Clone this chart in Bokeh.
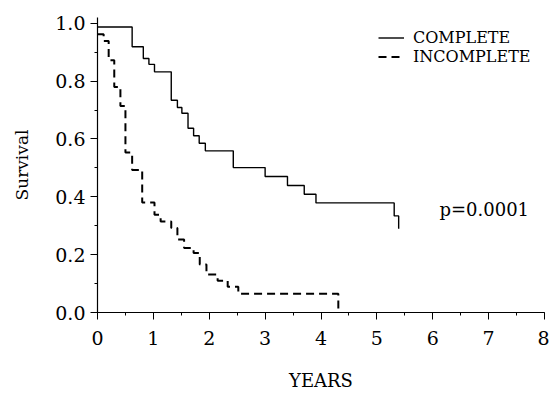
from bokeh.plotting import figure
from bokeh.models import (Range1d, SingleIntervalTicker, PrintfTickFormatter,
                          Legend, LegendItem, Label)
from bokeh.embed import file_html
from bokeh.resources import INLINE

# Kaplan-Meier step data (time in years, survival after the step)
complete_t = [0, 0.62, 0.82, 0.92, 1.02, 1.32, 1.43, 1.51, 1.62, 1.72, 1.82, 1.93,
              2.43, 3.00, 3.40, 3.70, 3.91, 5.31, 5.39]
complete_s = [0.987, 0.919, 0.878, 0.858, 0.832, 0.734, 0.709, 0.689, 0.637, 0.611,
              0.585, 0.559, 0.501, 0.470, 0.439, 0.409, 0.379, 0.334, 0.29]

incomplete_t = [0, 0.11, 0.20, 0.30, 0.41, 0.50, 0.62, 0.80, 1.02, 1.13, 1.32, 1.43,
                1.55, 1.72, 1.83, 1.95, 2.15, 2.33, 2.52, 4.31]
incomplete_s = [0.962, 0.939, 0.872, 0.780, 0.714, 0.553, 0.493, 0.380, 0.338, 0.315,
                0.292, 0.252, 0.223, 0.206, 0.166, 0.131, 0.110, 0.089, 0.065, 0.0]

series_labels = ["COMPLETE", "INCOMPLETE"]
p_text = "p=0.0001"
x_title = "YEARS"
y_title = "Survival"

FONT = "DejaVu Serif"

p = figure(width=549, height=393, output_backend="svg", toolbar_location=None,
           x_range=Range1d(0, 8), y_range=Range1d(0, 1.02),
           min_border_left=97, min_border_right=5, min_border_top=17,
           min_border_bottom=80)
p.outline_line_color = None
p.xgrid.visible = False
p.ygrid.visible = False
p.background_fill_color = "white"
p.border_fill_color = "white"

r1 = p.step(complete_t, complete_s, mode="after", line_color="black", line_width=1.4)
r2 = p.step(incomplete_t, incomplete_s, mode="after", line_color="black",
            line_width=2, line_dash="8 5")

p.xaxis.ticker = SingleIntervalTicker(interval=1, num_minor_ticks=2)
p.yaxis.ticker = SingleIntervalTicker(interval=0.2, num_minor_ticks=2)
p.xaxis.formatter = PrintfTickFormatter(format="%d")
p.yaxis.formatter = PrintfTickFormatter(format="%.1f")

for ax in (p.xaxis[0], p.yaxis[0]):
    ax.axis_line_color = "black"
    ax.axis_line_width = 1.2
    ax.major_tick_line_color = "black"
    ax.minor_tick_line_color = "black"
    ax.major_tick_out = 7
    ax.major_tick_in = 0
    ax.minor_tick_out = 3
    ax.minor_tick_in = 0
    ax.major_label_text_font = FONT
    ax.major_label_text_font_size = "19px"
    ax.major_label_text_color = "black"
    ax.axis_label_text_font = FONT
    ax.axis_label_text_font_style = "normal"
    ax.axis_label_text_color = "black"

p.xaxis.major_label_standoff = 11
p.yaxis.major_label_standoff = 5
p.xaxis.axis_label = x_title
p.xaxis.axis_label_text_font_size = "18px"
p.xaxis.axis_label_standoff = 22
p.yaxis.axis_label = y_title
p.yaxis.axis_label_text_font_size = "17px"
p.yaxis.axis_label_standoff = 20

legend = Legend(items=[LegendItem(label=series_labels[0], renderers=[r1]),
                       LegendItem(label=series_labels[1], renderers=[r2])],
                location=(281, 246), padding=0, margin=0, spacing=-2,
                label_height=15, glyph_height=15, glyph_width=26,
                label_standoff=9, border_line_color=None,
                background_fill_alpha=0, label_text_font=FONT,
                label_text_font_size="16px", label_text_color="black")
p.add_layout(legend)

p.add_layout(Label(x=6.12, y=0.355, text=p_text, text_font=FONT,
                   text_font_size="18px", text_baseline="middle",
                   text_color="black"))

open("out.html", "w").write(file_html(p, INLINE))
